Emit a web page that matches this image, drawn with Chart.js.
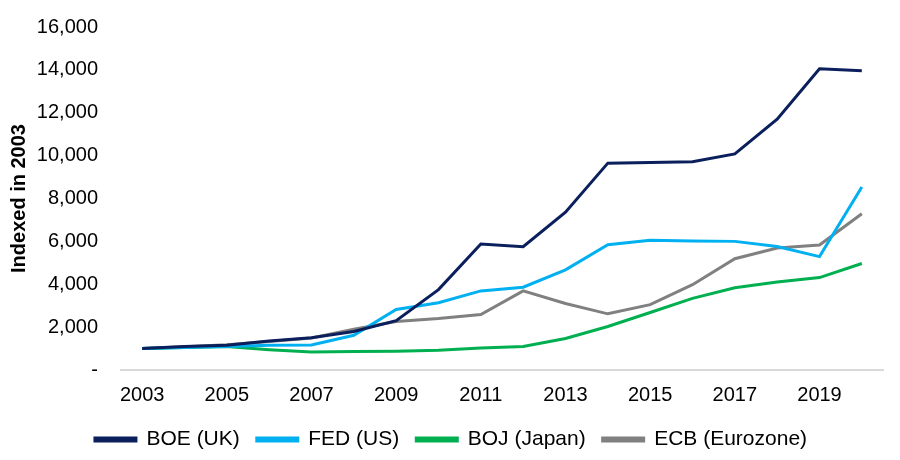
<!DOCTYPE html>
<html>
<head>
<meta charset="utf-8">
<title>Central bank balance sheets</title>
<script src="https://cdn.jsdelivr.net/npm/chart.js@4"></script>
<style>
  html, body { margin: 0; padding: 0; background: #fff; }
  #wrap { width: 900px; height: 460px; }
</style>
</head>
<body>
<div id="wrap"><canvas id="chart"></canvas></div>
<script>
/* ===== DATA ===== */
const years = ["2003","2004","2005","2006","2007","2008","2009","2010","2011",
               "2012","2013","2014","2015","2016","2017","2018","2019","2020"];

const boe = [1000,1100,1150,1350,1500,1800,2300,3750,5880,5750,7360,9650,9680,9710,10080,11700,14050,13960];
const fed = [1000,1050,1100,1150,1170,1620,2820,3140,3690,3860,4670,5840,6050,6020,6000,5760,5290,8540];
const boj = [1000,1050,1100,950,840,860,880,920,1030,1100,1470,2030,2680,3340,3840,4110,4310,4970];
const ecb = [1000,1080,1180,1330,1490,1900,2260,2400,2590,3690,3100,2620,3050,3980,5190,5690,5830,7290];

const yTicks = [0,2000,4000,6000,8000,10000,12000,14000,16000];

/* ===== CHART ===== */
Chart.defaults.font.family = "'Liberation Sans', Arial, sans-serif";
Chart.defaults.color = "#000";

const line = (label, data, color) => ({
  label, data,
  borderColor: color,
  backgroundColor: color,
  borderWidth: 3,
  pointRadius: 0,
  tension: 0
});

new Chart(document.getElementById("chart"), {
  type: "line",
  data: {
    labels: years,
    datasets: [
      line("BOE (UK)", boe, "#0b1f5c"),
      line("FED (US)", fed, "#00b0f0"),
      line("BOJ (Japan)", boj, "#00b050"),
      line("ECB (Eurozone)", ecb, "#808080")
    ]
  },
  options: {
    responsive: true,
    maintainAspectRatio: false,
    animation: false,
    // left padding also nudges the centred legend to the right, as in the original
    layout: { padding: { top: 5, right: 17, left: 19, bottom: 0 } },
    plugins: {
      tooltip: { enabled: false },
      legend: {
        position: "bottom",
        labels: {
          boxWidth: 41,
          boxHeight: 3,
          padding: 17,
          font: { size: 21 }
        }
      }
    },
    scales: {
      x: {
        offset: true,
        grid: { display: false },
        border: { display: true, color: "#d9d9d9", width: 2 },
        ticks: {
          autoSkip: false,
          maxRotation: 0,
          padding: 5,
          font: { size: 20 },
          callback: (v, i) => (i % 2 === 0 ? years[i] : "")
        }
      },
      y: {
        min: 0,
        max: 16000,
        grid: { display: false },
        border: { display: false },
        afterBuildTicks: s => { s.ticks = yTicks.map(v => ({ value: v })); },
        afterFit: s => { s.width = 102; },
        title: {
          display: true,
          text: "Indexed in 2003",
          font: { size: 20, weight: "bold" },
          padding: { top: -12, bottom: 4 }
        },
        ticks: {
          padding: 15,
          font: { size: 20 },
          callback: v => (v === 0 ? "-" : v.toLocaleString("en-US"))
        }
      }
    }
  }
});
</script>
</body>
</html>
